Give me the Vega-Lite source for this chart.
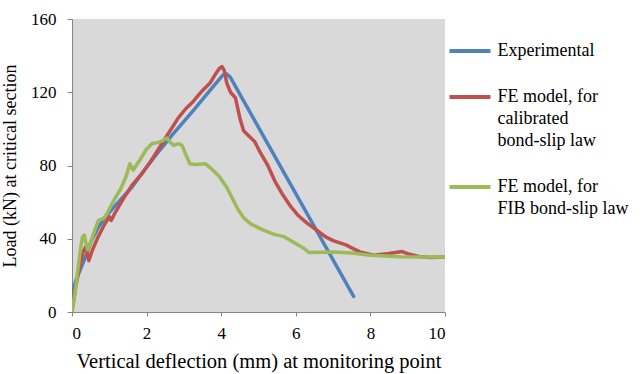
{
  "$schema": "https://vega.github.io/schema/vega-lite/v6.json",
  "width": 373,
  "height": 293,
  "autosize": {"type": "none"},
  "padding": {"left": 72, "top": 19, "right": 199, "bottom": 62},
  "background": "white",
  "config": {
    "font": "Liberation Serif",
    "view": {"fill": "#d9d9d9", "stroke": null},
    "style": {"guide-label": {"lineHeight": 22}},
    "axis": {
      "labelFont": "Liberation Serif",
      "titleFont": "Liberation Serif",
      "labelFontSize": 17,
      "labelColor": "black",
      "titleColor": "black",
      "titleFontWeight": "normal",
      "domainColor": "#868686",
      "tickColor": "#868686",
      "grid": false
    }
  },
  "data": {
    "values": [
      {"series": "Experimental", "x": 0, "y": 10},
      {"series": "Experimental", "x": 0.1, "y": 17},
      {"series": "Experimental", "x": 0.2, "y": 22},
      {"series": "Experimental", "x": 0.3, "y": 27},
      {"series": "Experimental", "x": 0.4, "y": 32},
      {"series": "Experimental", "x": 0.5, "y": 38},
      {"series": "Experimental", "x": 0.7, "y": 46},
      {"series": "Experimental", "x": 0.9, "y": 52},
      {"series": "Experimental", "x": 1.2, "y": 59},
      {"series": "Experimental", "x": 1.6, "y": 68},
      {"series": "Experimental", "x": 2.0, "y": 79},
      {"series": "Experimental", "x": 2.3, "y": 87},
      {"series": "Experimental", "x": 2.7, "y": 97},
      {"series": "Experimental", "x": 3.25, "y": 110},
      {"series": "Experimental", "x": 3.7, "y": 121},
      {"series": "Experimental", "x": 4.05, "y": 129.5},
      {"series": "Experimental", "x": 4.15, "y": 130},
      {"series": "Experimental", "x": 4.25, "y": 128},
      {"series": "Experimental", "x": 7.55, "y": 8.5},

      {"series": "FE model, for|calibrated|bond-slip law", "x": 0, "y": 0},
      {"series": "FE model, for|calibrated|bond-slip law", "x": 0.1, "y": 14},
      {"series": "FE model, for|calibrated|bond-slip law", "x": 0.2, "y": 24},
      {"series": "FE model, for|calibrated|bond-slip law", "x": 0.3, "y": 33},
      {"series": "FE model, for|calibrated|bond-slip law", "x": 0.38, "y": 36},
      {"series": "FE model, for|calibrated|bond-slip law", "x": 0.45, "y": 28},
      {"series": "FE model, for|calibrated|bond-slip law", "x": 0.55, "y": 34},
      {"series": "FE model, for|calibrated|bond-slip law", "x": 0.7, "y": 41},
      {"series": "FE model, for|calibrated|bond-slip law", "x": 0.85, "y": 47},
      {"series": "FE model, for|calibrated|bond-slip law", "x": 1.0, "y": 52},
      {"series": "FE model, for|calibrated|bond-slip law", "x": 1.05, "y": 50},
      {"series": "FE model, for|calibrated|bond-slip law", "x": 1.15, "y": 54},
      {"series": "FE model, for|calibrated|bond-slip law", "x": 1.35, "y": 61},
      {"series": "FE model, for|calibrated|bond-slip law", "x": 1.6, "y": 69},
      {"series": "FE model, for|calibrated|bond-slip law", "x": 1.85, "y": 75},
      {"series": "FE model, for|calibrated|bond-slip law", "x": 2.1, "y": 82},
      {"series": "FE model, for|calibrated|bond-slip law", "x": 2.35, "y": 90},
      {"series": "FE model, for|calibrated|bond-slip law", "x": 2.6, "y": 98},
      {"series": "FE model, for|calibrated|bond-slip law", "x": 2.85, "y": 106},
      {"series": "FE model, for|calibrated|bond-slip law", "x": 3.05, "y": 111},
      {"series": "FE model, for|calibrated|bond-slip law", "x": 3.25, "y": 115},
      {"series": "FE model, for|calibrated|bond-slip law", "x": 3.5, "y": 121},
      {"series": "FE model, for|calibrated|bond-slip law", "x": 3.7, "y": 125},
      {"series": "FE model, for|calibrated|bond-slip law", "x": 3.85, "y": 130},
      {"series": "FE model, for|calibrated|bond-slip law", "x": 3.95, "y": 133},
      {"series": "FE model, for|calibrated|bond-slip law", "x": 4.02, "y": 134},
      {"series": "FE model, for|calibrated|bond-slip law", "x": 4.08, "y": 132},
      {"series": "FE model, for|calibrated|bond-slip law", "x": 4.15, "y": 125},
      {"series": "FE model, for|calibrated|bond-slip law", "x": 4.25, "y": 120},
      {"series": "FE model, for|calibrated|bond-slip law", "x": 4.38, "y": 117},
      {"series": "FE model, for|calibrated|bond-slip law", "x": 4.5, "y": 106},
      {"series": "FE model, for|calibrated|bond-slip law", "x": 4.6, "y": 99},
      {"series": "FE model, for|calibrated|bond-slip law", "x": 4.75, "y": 96},
      {"series": "FE model, for|calibrated|bond-slip law", "x": 4.9, "y": 93},
      {"series": "FE model, for|calibrated|bond-slip law", "x": 5.05, "y": 87},
      {"series": "FE model, for|calibrated|bond-slip law", "x": 5.25, "y": 80},
      {"series": "FE model, for|calibrated|bond-slip law", "x": 5.45, "y": 71},
      {"series": "FE model, for|calibrated|bond-slip law", "x": 5.65, "y": 64},
      {"series": "FE model, for|calibrated|bond-slip law", "x": 5.85, "y": 58},
      {"series": "FE model, for|calibrated|bond-slip law", "x": 6.05, "y": 53},
      {"series": "FE model, for|calibrated|bond-slip law", "x": 6.3, "y": 48.5},
      {"series": "FE model, for|calibrated|bond-slip law", "x": 6.56, "y": 44.7},
      {"series": "FE model, for|calibrated|bond-slip law", "x": 6.8, "y": 41},
      {"series": "FE model, for|calibrated|bond-slip law", "x": 7.0, "y": 39},
      {"series": "FE model, for|calibrated|bond-slip law", "x": 7.36, "y": 36.5},
      {"series": "FE model, for|calibrated|bond-slip law", "x": 7.55, "y": 34.5},
      {"series": "FE model, for|calibrated|bond-slip law", "x": 7.72, "y": 32.8},
      {"series": "FE model, for|calibrated|bond-slip law", "x": 8.08, "y": 31},
      {"series": "FE model, for|calibrated|bond-slip law", "x": 8.5, "y": 32},
      {"series": "FE model, for|calibrated|bond-slip law", "x": 8.85, "y": 33},
      {"series": "FE model, for|calibrated|bond-slip law", "x": 9.05, "y": 31.5},
      {"series": "FE model, for|calibrated|bond-slip law", "x": 9.3, "y": 30.3},
      {"series": "FE model, for|calibrated|bond-slip law", "x": 9.6, "y": 29.8},
      {"series": "FE model, for|calibrated|bond-slip law", "x": 10, "y": 30},

      {"series": "FE model, for|FIB bond-slip law", "x": 0, "y": 0},
      {"series": "FE model, for|FIB bond-slip law", "x": 0.08, "y": 10},
      {"series": "FE model, for|FIB bond-slip law", "x": 0.15, "y": 22},
      {"series": "FE model, for|FIB bond-slip law", "x": 0.22, "y": 33},
      {"series": "FE model, for|FIB bond-slip law", "x": 0.28, "y": 41},
      {"series": "FE model, for|FIB bond-slip law", "x": 0.33, "y": 42},
      {"series": "FE model, for|FIB bond-slip law", "x": 0.38, "y": 37},
      {"series": "FE model, for|FIB bond-slip law", "x": 0.42, "y": 34},
      {"series": "FE model, for|FIB bond-slip law", "x": 0.5, "y": 38},
      {"series": "FE model, for|FIB bond-slip law", "x": 0.6, "y": 44},
      {"series": "FE model, for|FIB bond-slip law", "x": 0.71, "y": 50},
      {"series": "FE model, for|FIB bond-slip law", "x": 0.84, "y": 51},
      {"series": "FE model, for|FIB bond-slip law", "x": 0.92, "y": 53},
      {"series": "FE model, for|FIB bond-slip law", "x": 1.02, "y": 57},
      {"series": "FE model, for|FIB bond-slip law", "x": 1.15, "y": 62},
      {"series": "FE model, for|FIB bond-slip law", "x": 1.3, "y": 67},
      {"series": "FE model, for|FIB bond-slip law", "x": 1.45, "y": 74},
      {"series": "FE model, for|FIB bond-slip law", "x": 1.55, "y": 81},
      {"series": "FE model, for|FIB bond-slip law", "x": 1.64, "y": 77.5},
      {"series": "FE model, for|FIB bond-slip law", "x": 1.72, "y": 80},
      {"series": "FE model, for|FIB bond-slip law", "x": 1.85, "y": 84},
      {"series": "FE model, for|FIB bond-slip law", "x": 2.0, "y": 89},
      {"series": "FE model, for|FIB bond-slip law", "x": 2.15, "y": 92},
      {"series": "FE model, for|FIB bond-slip law", "x": 2.3, "y": 92.5},
      {"series": "FE model, for|FIB bond-slip law", "x": 2.42, "y": 93.5},
      {"series": "FE model, for|FIB bond-slip law", "x": 2.55, "y": 95},
      {"series": "FE model, for|FIB bond-slip law", "x": 2.62, "y": 93},
      {"series": "FE model, for|FIB bond-slip law", "x": 2.72, "y": 91},
      {"series": "FE model, for|FIB bond-slip law", "x": 2.85, "y": 92},
      {"series": "FE model, for|FIB bond-slip law", "x": 2.95, "y": 91},
      {"series": "FE model, for|FIB bond-slip law", "x": 3.05, "y": 86},
      {"series": "FE model, for|FIB bond-slip law", "x": 3.16, "y": 81},
      {"series": "FE model, for|FIB bond-slip law", "x": 3.3, "y": 80.5},
      {"series": "FE model, for|FIB bond-slip law", "x": 3.57, "y": 81},
      {"series": "FE model, for|FIB bond-slip law", "x": 3.75, "y": 78},
      {"series": "FE model, for|FIB bond-slip law", "x": 3.95, "y": 74},
      {"series": "FE model, for|FIB bond-slip law", "x": 4.15, "y": 68},
      {"series": "FE model, for|FIB bond-slip law", "x": 4.3, "y": 62},
      {"series": "FE model, for|FIB bond-slip law", "x": 4.45, "y": 56},
      {"series": "FE model, for|FIB bond-slip law", "x": 4.6, "y": 51.5},
      {"series": "FE model, for|FIB bond-slip law", "x": 4.8, "y": 48},
      {"series": "FE model, for|FIB bond-slip law", "x": 5.1, "y": 45},
      {"series": "FE model, for|FIB bond-slip law", "x": 5.4, "y": 42.5},
      {"series": "FE model, for|FIB bond-slip law", "x": 5.7, "y": 41},
      {"series": "FE model, for|FIB bond-slip law", "x": 5.95, "y": 38},
      {"series": "FE model, for|FIB bond-slip law", "x": 6.2, "y": 35},
      {"series": "FE model, for|FIB bond-slip law", "x": 6.35, "y": 32.5},
      {"series": "FE model, for|FIB bond-slip law", "x": 7.0, "y": 32.8},
      {"series": "FE model, for|FIB bond-slip law", "x": 7.5, "y": 32.2},
      {"series": "FE model, for|FIB bond-slip law", "x": 8.0, "y": 31},
      {"series": "FE model, for|FIB bond-slip law", "x": 8.8, "y": 30.2},
      {"series": "FE model, for|FIB bond-slip law", "x": 9.5, "y": 30},
      {"series": "FE model, for|FIB bond-slip law", "x": 10, "y": 30}
    ]
  },
  "mark": {"type": "line", "strokeWidth": 3.5, "strokeCap": "round", "strokeJoin": "round", "clip": true},
  "encoding": {
    "x": {
      "field": "x",
      "type": "quantitative",
      "scale": {"domain": [0, 10], "nice": false},
      "axis": {
        "values": [0, 2, 4, 6, 8, 10],
        "title": "Vertical deflection (mm) at monitoring point",
        "titleFontSize": 20.5,
        "tickSize": 4,
        "labelPadding": 9,
        "titlePadding": 10
      }
    },
    "y": {
      "field": "y",
      "type": "quantitative",
      "scale": {"domain": [0, 160], "nice": false},
      "axis": {
        "values": [0, 40, 80, 120, 160],
        "title": "Load (kN) at critical section",
        "titleFontSize": 18,
        "tickSize": 5,
        "labelPadding": 11,
        "titlePadding": 11
      }
    },
    "color": {
      "field": "series",
      "type": "nominal",
      "scale": {
        "domain": ["Experimental", "FE model, for|calibrated|bond-slip law", "FE model, for|FIB bond-slip law"],
        "range": ["#4F81BD", "#C0504D", "#9BBB59"]
      },
      "legend": {
        "title": null,
        "orient": "right",
        "offset": -7.5,
        "padding": 9.5,
        "rowPadding": 14,
        "symbolType": "stroke",
        "symbolSize": 1681,
        "symbolStrokeWidth": 4,
        "labelOffset": 5,
        "labelFont": "Liberation Serif",
        "labelFontSize": 18,
        "labelColor": "black",
        "labelLimit": 300,
        "labelExpr": "split(datum.label, '|')"
      }
    }
  }
}
